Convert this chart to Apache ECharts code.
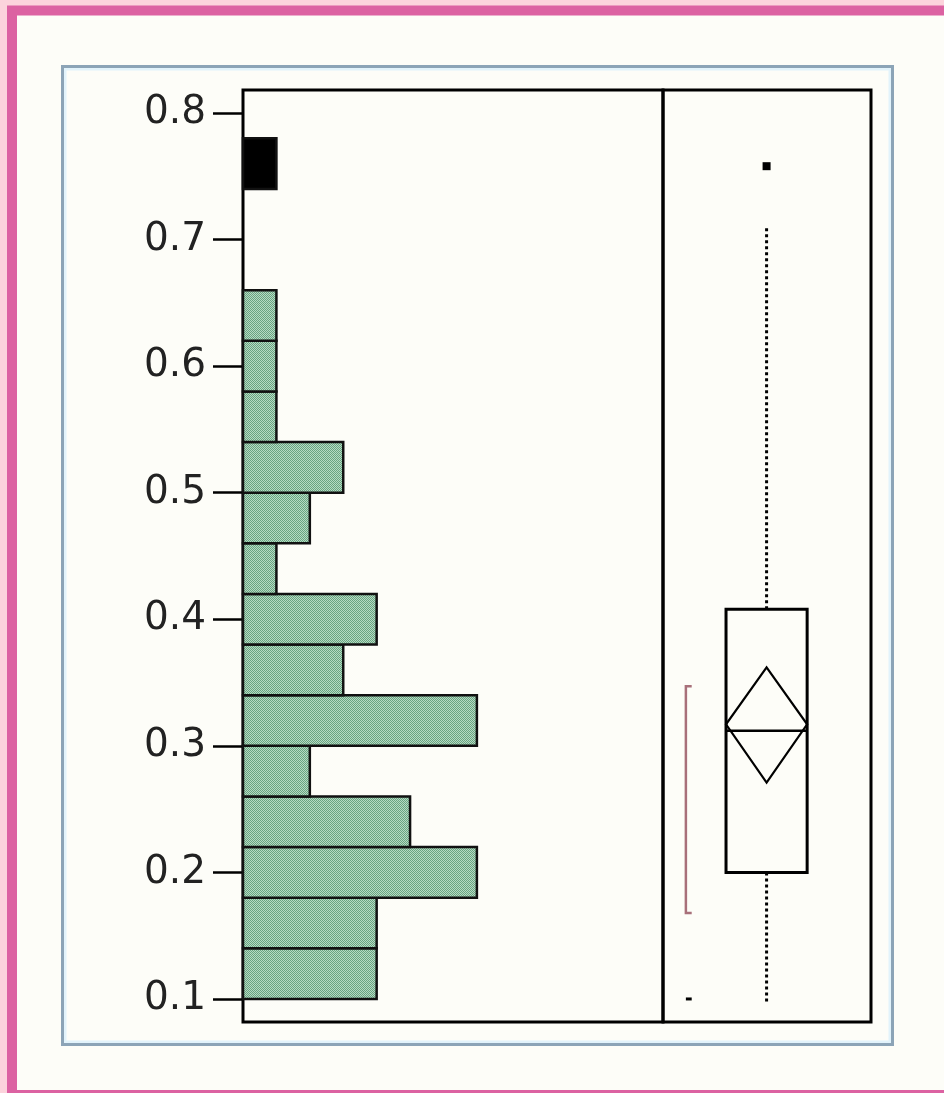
<!DOCTYPE html>
<html>
<head>
<meta charset="utf-8">
<script src="https://cdn.jsdelivr.net/npm/echarts@6/dist/echarts.min.js"></script>
<style>
  html, body { margin: 0; padding: 0; background: #fcd3dc; }
  #main { width: 944px; height: 1093px; }
</style>
</head>
<body>
<div id="main"></div>
<script>
// histogram bins (lower edge), each 0.04 wide
var binWidth = 0.04;
var binLows = [0.10, 0.14, 0.18, 0.22, 0.26, 0.30, 0.34, 0.38, 0.42, 0.46, 0.50, 0.54, 0.58, 0.62, 0.66, 0.70, 0.74];
var binCounts = [4, 4, 7, 5, 2, 7, 3, 4, 1, 2, 3, 1, 1, 1, 0, 0, 1];
var binSelected = [0, 0, 0, 0, 0, 0, 0, 0, 0, 0, 0, 0, 0, 0, 0, 0, 1];
var tickValues = [0.1, 0.2, 0.3, 0.4, 0.5, 0.6, 0.7, 0.8];

// outlier box plot: lower whisker, Q1, median, Q3, upper whisker
var boxStats = [0.098, 0.2, 0.312, 0.408, 0.71];
var outliers = [0.758];
// means diamond: lower 95%, mean, upper 95%
var meanDiamond = [0.271, 0.317, 0.362];
// shortest half bracket
var shortestHalf = [0.168, 0.347];
var minMark = [0.1];

var yMin = 0.0818, yMax = 0.8182;
var countMax = 12.57;

// dithered green fill
var pat = document.createElement('canvas');
pat.width = 2; pat.height = 2;
var pctx = pat.getContext('2d');
pctx.fillStyle = '#b6dbc3'; pctx.fillRect(0, 0, 2, 2);
pctx.fillStyle = '#68a381'; pctx.fillRect(0, 0, 1, 1); pctx.fillRect(1, 1, 1, 1);
var greenFill = { image: pat, repeat: 'repeat' };

var histData = [];
for (var i = 0; i < binLows.length; i++) {
  if (binCounts[i] > 0) {
    histData.push([binLows[i], binLows[i] + binWidth, binCounts[i], binSelected[i]]);
  }
}

function renderBar(params, api) {
  var lo = api.value(0), hi = api.value(1), n = api.value(2), sel = api.value(3);
  var a = api.coord([0, lo]);
  var b = api.coord([n, hi]);
  return {
    type: 'rect',
    shape: { x: a[0], y: b[1], width: b[0] - a[0], height: a[1] - b[1] },
    style: { fill: sel ? '#000' : greenFill, stroke: '#111', lineWidth: 2.5 }
  };
}

function renderBox(params, api) {
  var cx = 0.498, hw = 0.195, bx = 0.11, tw = 0.028;
  var children = [];
  var dotted = { stroke: '#000', lineWidth: 3, lineDash: [3, 3] };
  var solid = { stroke: '#000', lineWidth: 3, fill: 'none' };
  // whiskers
  var p = api.coord([cx, boxStats[3]]), q = api.coord([cx, boxStats[4]]);
  children.push({ type: 'line', shape: { x1: p[0], y1: p[1], x2: q[0], y2: q[1] }, style: dotted });
  p = api.coord([cx, boxStats[1]]); q = api.coord([cx, boxStats[0]]);
  children.push({ type: 'line', shape: { x1: p[0], y1: p[1], x2: q[0], y2: q[1] }, style: dotted });
  // box
  var tl = api.coord([cx - hw, boxStats[3]]), br = api.coord([cx + hw, boxStats[1]]);
  children.push({ type: 'rect', shape: { x: tl[0], y: tl[1], width: br[0] - tl[0], height: br[1] - tl[1] }, style: solid });
  // median
  p = api.coord([cx - hw, boxStats[2]]); q = api.coord([cx + hw, boxStats[2]]);
  children.push({ type: 'line', shape: { x1: p[0], y1: p[1], x2: q[0], y2: q[1] }, style: { stroke: '#000', lineWidth: 2.5 } });
  // means diamond
  children.push({
    type: 'polygon',
    shape: { points: [
      api.coord([cx, meanDiamond[2]]), api.coord([cx + hw, meanDiamond[1]]),
      api.coord([cx, meanDiamond[0]]), api.coord([cx - hw, meanDiamond[1]])
    ] },
    style: { fill: 'none', stroke: '#000', lineWidth: 2.2 }
  });
  // outliers
  outliers.forEach(function (v) {
    var o = api.coord([cx, v]);
    children.push({ type: 'rect', shape: { x: o[0] - 4, y: o[1] - 4, width: 8, height: 8 }, style: { fill: '#000' } });
  });
  // shortest half bracket
  children.push({
    type: 'polyline',
    shape: { points: [
      api.coord([bx + tw, shortestHalf[1]]), api.coord([bx, shortestHalf[1]]),
      api.coord([bx, shortestHalf[0]]), api.coord([bx + tw, shortestHalf[0]])
    ] },
    style: { fill: 'none', stroke: '#a8707a', lineWidth: 2.5 }
  });
  // small mark at minimum
  p = api.coord([bx, minMark[0]]); q = api.coord([bx + tw, minMark[0]]);
  children.push({ type: 'line', shape: { x1: p[0], y1: p[1], x2: q[0], y2: q[1] }, style: { stroke: '#000', lineWidth: 3 } });
  return { type: 'group', children: children };
}

var chart = echarts.init(document.getElementById('main'));
var option = {
  backgroundColor: '#fcd3dc',
  animation: false,
  graphic: [
    { type: 'rect', z: -10, shape: { x: 12, y: 10.5, width: 1000, height: 1084.5 },
      style: { fill: '#fdfdf8', stroke: '#dc62a2', lineWidth: 10 } },
    { type: 'rect', z: -9, shape: { x: 65, y: 69, width: 825, height: 973 },
      style: { fill: 'none', stroke: '#e2f3fb', lineWidth: 3 } },
    { type: 'rect', z: -9, shape: { x: 62.5, y: 66.5, width: 830, height: 978 },
      style: { fill: 'none', stroke: '#8ca4b7', lineWidth: 3 } }
  ],
  grid: [
    { left: 243, top: 90, width: 420, height: 932, show: true, borderColor: '#000', borderWidth: 3, backgroundColor: 'transparent' },
    { left: 663, top: 90, width: 208, height: 932, show: true, borderColor: '#000', borderWidth: 3, backgroundColor: 'transparent' }
  ],
  xAxis: [
    { type: 'value', gridIndex: 0, min: 0, max: countMax, show: false },
    { type: 'value', gridIndex: 1, min: 0, max: 1, show: false }
  ],
  yAxis: [
    {
      type: 'value', gridIndex: 0, min: yMin, max: yMax,
      axisLine: { show: false },
      splitLine: { show: false },
      axisTick: { show: true, length: 30, customValues: tickValues, lineStyle: { color: '#000', width: 2.5 } },
      axisLabel: {
        show: true, customValues: tickValues, margin: 37,
        fontSize: 39, fontFamily: 'DejaVu Sans', color: '#222',
        formatter: function (v) { return v.toFixed(1); }
      }
    },
    { type: 'value', gridIndex: 1, min: yMin, max: yMax, show: false }
  ],
  series: [
    {
      type: 'custom', name: 'histogram', xAxisIndex: 0, yAxisIndex: 0,
      renderItem: renderBar, encode: { x: 2, y: [0, 1] }, data: histData, z: 3
    },
    {
      type: 'custom', name: 'box', xAxisIndex: 1, yAxisIndex: 1,
      renderItem: renderBox, encode: { x: 0, y: 1 }, data: [[0.5, boxStats[2]]], z: 3
    }
  ]
};
chart.setOption(option);
</script>
</body>
</html>
